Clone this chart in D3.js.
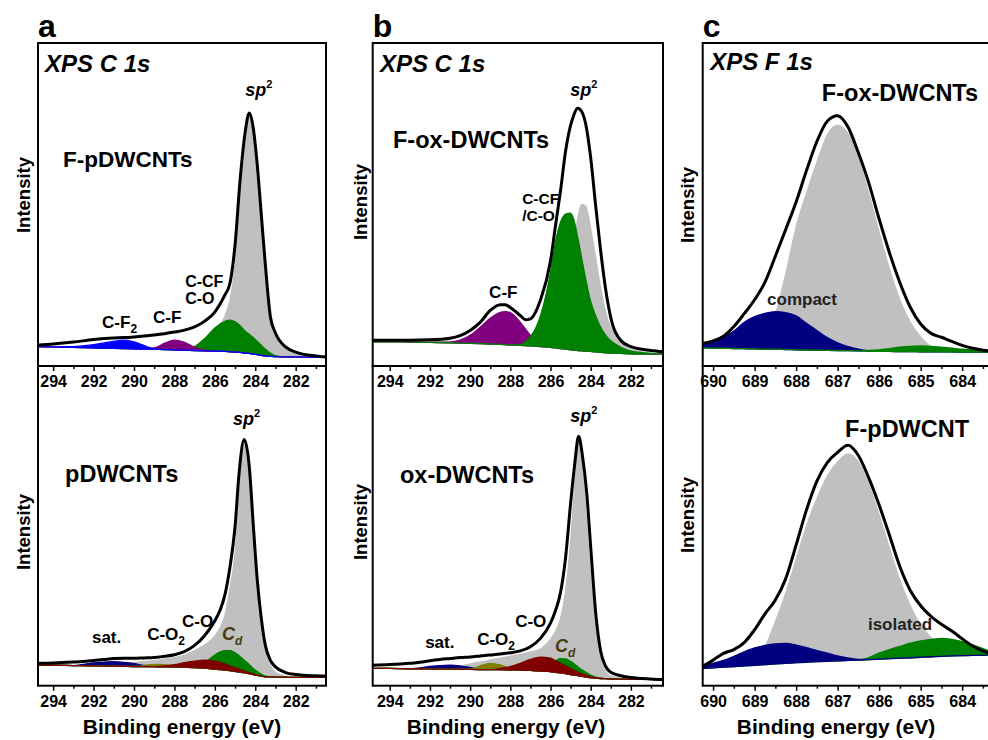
<!DOCTYPE html>
<html>
<head>
<meta charset="utf-8">
<script src="https://cdn.jsdelivr.net/npm/d3@7"></script>
<style>
  body { margin: 0; background: #fff; }
  svg text { font-family: "Liberation Sans", Arial, sans-serif; font-weight: bold; fill: #000; }
</style>
</head>
<body>
<svg id="chart" width="988" height="740"></svg>
<script>
// ---------- data (arbitrary intensity units 0-100) ----------
var c1sTicks = [294, 292, 290, 288, 286, 284, 282];
var c1sMinor = [293, 291, 289, 287, 285, 283, 281];
var f1sTicks = [690, 689, 688, 687, 686, 685, 684];
var f1sMinor = [689.5, 688.5, 687.5, 686.5, 685.5, 684.5, 683.5];

// a, top: F-pDWCNTs C 1s
var aTopEnergy   = [294.75, 294, 293, 292, 291, 290.5, 290, 289, 288.5, 288, 287.5, 287, 286.5, 286, 285.5, 285.25, 285, 284.75, 284.5, 284.3, 284.1, 283.9, 283.7, 283.5, 283.25, 283, 282.5, 282, 281, 280.5];
var aTopEnvelope = [6.5, 6.8, 7.4, 8.2, 8.7, 8.8, 9.0, 9.6, 10.0, 10.5, 11.1, 12.1, 13.9, 16.7, 22.0, 25.7, 37.5, 57.6, 72.4, 78.3, 73.7, 62.2, 46.7, 31.3, 15.2, 10.2, 5.9, 4.3, 3.1, 2.8];
var aTopBaseline = [6.0, 5.9, 5.8, 5.6, 5.5, 5.4, 5.3, 5.2, 5.1, 5.0, 4.9, 4.8, 4.7, 4.6, 4.5, 4.4, 4.3, 4.2, 4.0, 3.9, 3.7, 3.5, 3.3, 3.1, 3.0, 2.9, 2.8, 2.8, 2.7, 2.7];
var aTopSp2      = [6.0, 5.9, 5.8, 5.6, 5.5, 5.4, 5.3, 5.2, 5.1, 5.0, 4.9, 5.5, 7.0, 10.0, 15.5, 20.4, 31.0, 53.0, 70.0, 77.2, 72.5, 61.0, 45.5, 30.0, 14.2, 9.3, 5.2, 3.9, 2.9, 2.7];
var aTopCCF      = [6.0, 5.9, 5.8, 5.6, 5.5, 5.4, 5.3, 5.2, 5.1, 5.0, 4.9, 6.0, 8.5, 11.8, 13.8, 14.2, 13.7, 12.5, 10.8, 9.8, 8.8, 7.6, 6.4, 5.2, 4.0, 3.2, 2.8, 2.8, 2.7, 2.7];
var aTopCF       = [6.0, 5.9, 5.8, 5.6, 5.5, 5.4, 5.3, 5.6, 7.0, 8.0, 7.3, 5.8, 4.9, 4.6, 4.5, 4.4, 4.3, 4.2, 4.0, 3.9, 3.7, 3.5, 3.3, 3.1, 3.0, 2.9, 2.8, 2.8, 2.7, 2.7];
var aTopCF2      = [6.0, 5.9, 6.0, 6.6, 7.6, 8.0, 7.5, 5.3, 5.1, 5.0, 4.9, 4.8, 4.7, 4.6, 4.5, 4.4, 4.3, 4.2, 4.0, 3.9, 3.7, 3.5, 3.3, 3.1, 3.0, 2.9, 2.8, 2.8, 2.7, 2.7];

// b, top: F-ox-DWCNTs C 1s
var bTopEnergy   = [294.85, 294, 293, 292, 291, 290.5, 290, 289.5, 289, 288.5, 288.25, 288, 287.5, 287.25, 287, 286.5, 286, 285.75, 285.5, 285.25, 285, 284.85, 284.65, 284.45, 284.25, 284, 283.75, 283.5, 283.25, 283, 282.5, 282, 281, 280.4];
var bTopEnvelope = [8.0, 8.0, 8.0, 8.1, 8.6, 9.4, 11.0, 13.5, 17.2, 19.0, 19.0, 18.1, 15.6, 14.3, 14.6, 20.4, 32.5, 43.5, 54.3, 66.5, 74.5, 77.5, 79.8, 78.8, 75.0, 64.5, 49.5, 35.5, 23.5, 15.0, 7.9, 6.0, 4.8, 4.4];
var bTopBaseline = [7.5, 7.5, 7.4, 7.3, 7.2, 7.1, 7.0, 6.9, 6.8, 6.7, 6.6, 6.5, 6.4, 6.3, 6.2, 6.0, 5.8, 5.6, 5.4, 5.2, 5.0, 4.9, 4.8, 4.7, 4.6, 4.5, 4.35, 4.2, 4.1, 4.0, 3.9, 3.8, 3.7, 3.7];
var bTopSp2      = [8.0, 8.0, 7.9, 7.8, 7.7, 7.6, 7.5, 7.4, 7.3, 7.2, 7.1, 7.0, 6.9, 6.8, 6.8, 7.2, 9.0, 11.5, 15.0, 21.0, 29.0, 36.0, 45.5, 50.0, 49.5, 42.5, 33.5, 24.0, 16.5, 11.8, 7.0, 5.2, 4.0, 3.8];
var bTopCF       = [7.5, 7.5, 7.4, 7.3, 7.4, 8.0, 9.5, 12.0, 14.8, 16.6, 16.8, 16.5, 13.5, 11.5, 9.5, 7.0, 5.8, 5.6, 5.4, 5.2, 5.0, 4.9, 4.8, 4.7, 4.6, 4.5, 4.35, 4.2, 4.1, 4.0, 3.9, 3.8, 3.7, 3.7];
var bTopCCF      = [7.5, 7.5, 7.4, 7.3, 7.2, 7.1, 7.0, 6.9, 6.8, 6.7, 6.6, 6.5, 6.5, 7.5, 9.0, 15.5, 29.0, 38.5, 44.5, 47.0, 47.3, 45.5, 40.0, 33.5, 27.0, 20.0, 15.5, 12.0, 9.5, 7.8, 5.8, 4.6, 3.9, 3.7];

// c, top: F-ox-DWCNTs F 1s
var cTopEnergy   = [690.25, 690, 689.75, 689.5, 689.25, 689, 688.75, 688.5, 688.25, 688, 687.75, 687.5, 687.25, 687, 686.75, 686.5, 686.25, 686, 685.75, 685.5, 685.25, 685, 684.75, 684.5, 684.25, 684, 683.75, 683.33];
var cTopEnvelope = [7.0, 7.8, 9.2, 12.2, 16.2, 20.5, 26.0, 34.0, 42.3, 50.8, 60.5, 69.5, 75.8, 77.5, 74.0, 66.0, 56.7, 45.5, 35.0, 25.8, 18.2, 13.0, 10.1, 8.9, 7.6, 6.4, 5.5, 4.6];
var cTopBaseline = [5.6, 5.55, 5.5, 5.4, 5.35, 5.3, 5.25, 5.2, 5.1, 5.0, 4.95, 4.9, 4.85, 4.8, 4.75, 4.7, 4.6, 4.5, 4.5, 4.45, 4.45, 4.4, 4.4, 4.35, 4.35, 4.3, 4.3, 4.3];
var cTopMain     = [5.6, 5.55, 5.5, 5.4, 5.35, 5.3, 8.0, 16.0, 28.5, 43.0, 53.5, 63.0, 71.5, 74.6, 72.0, 64.5, 53.5, 41.5, 30.0, 20.5, 13.5, 9.0, 6.0, 4.8, 4.35, 4.3, 4.3, 4.3];
var cTopCompact  = [6.6, 7.6, 8.8, 10.8, 13.5, 15.3, 16.3, 16.8, 16.5, 15.5, 13.2, 11.0, 8.8, 7.2, 6.0, 5.2, 4.7, 4.5, 4.5, 4.45, 4.45, 4.4, 4.4, 4.35, 4.35, 4.3, 4.3, 4.3];
var cTopIsolated = [5.6, 5.55, 5.5, 5.4, 5.35, 5.3, 5.25, 5.2, 5.1, 5.0, 4.95, 4.9, 4.85, 4.8, 4.75, 4.7, 4.8, 5.0, 5.4, 5.8, 6.1, 6.2, 6.1, 5.8, 5.5, 5.2, 5.0, 4.7];

// a, bottom: pDWCNTs C 1s
var aBotEnergy   = [294.75, 294, 293, 292.5, 292, 291.5, 291, 290.5, 290, 289.5, 289, 288.5, 288, 287.5, 287, 286.5, 286, 285.75, 285.5, 285.25, 285, 284.8, 284.55, 284.3, 284.1, 283.9, 283.7, 283.5, 283.25, 283, 282.5, 282, 281, 280.5];
var aBotEnvelope = [7.0, 7.1, 7.4, 7.6, 7.9, 8.2, 8.5, 8.6, 8.6, 8.7, 8.8, 9.2, 9.7, 10.7, 12.6, 15.7, 20.3, 23.5, 28.5, 37.2, 49.8, 66.5, 77.0, 68.8, 50.5, 33.0, 21.0, 12.6, 7.9, 5.9, 4.1, 3.5, 3.1, 3.0];
var aBotBaseline = [6.4, 6.4, 6.3, 6.25, 6.2, 6.15, 6.1, 6.05, 6.0, 6.0, 5.95, 5.9, 5.9, 5.8, 5.7, 5.5, 5.2, 5.05, 4.9, 4.7, 4.5, 4.3, 4.1, 3.8, 3.5, 3.2, 3.0, 2.8, 2.75, 2.7, 2.65, 2.6, 2.6, 2.6];
var aBotSp2      = [6.4, 6.4, 6.3, 6.25, 6.2, 6.2, 6.6, 7.0, 7.3, 7.6, 7.8, 8.3, 8.8, 9.6, 11.0, 12.8, 15.5, 18.0, 22.0, 30.5, 41.5, 59.0, 75.4, 64.5, 47.5, 31.0, 19.5, 12.0, 6.5, 4.2, 3.0, 2.7, 2.6, 2.6];
var aBotSat      = [6.4, 6.4, 6.3, 6.7, 7.1, 7.4, 7.5, 7.3, 6.9, 6.3, 5.95, 5.9, 5.9, 5.8, 5.7, 5.5, 5.2, 5.05, 4.9, 4.7, 4.5, 4.3, 4.1, 3.8, 3.5, 3.2, 3.0, 2.8, 2.75, 2.7, 2.65, 2.6, 2.6, 2.6];
var aBotCO2      = [6.4, 6.4, 6.3, 6.25, 6.2, 6.15, 6.1, 6.05, 6.0, 6.3, 6.7, 6.6, 6.2, 5.8, 5.7, 5.5, 5.2, 5.05, 4.9, 4.7, 4.5, 4.3, 4.1, 3.8, 3.5, 3.2, 3.0, 2.8, 2.75, 2.7, 2.65, 2.6, 2.6, 2.6];
var aBotCd       = [6.4, 6.4, 6.3, 6.25, 6.2, 6.15, 6.1, 6.05, 6.0, 6.0, 5.95, 5.9, 5.9, 5.8, 5.7, 7.2, 9.6, 10.5, 11.0, 11.0, 10.3, 9.4, 8.0, 6.6, 5.4, 4.4, 3.6, 3.0, 2.8, 2.7, 2.65, 2.6, 2.6, 2.6];
var aBotCO       = [6.4, 6.4, 6.3, 6.25, 6.2, 6.15, 6.1, 6.05, 6.0, 6.0, 5.95, 6.2, 6.6, 7.2, 7.7, 8.0, 7.7, 7.3, 6.8, 6.2, 5.6, 5.2, 4.6, 4.1, 3.7, 3.3, 3.0, 2.8, 2.75, 2.7, 2.65, 2.6, 2.6, 2.6];

// b, bottom: ox-DWCNTs C 1s
var bBotEnergy   = [294.85, 294, 293, 292.5, 292, 291.5, 291, 290.5, 290, 289.5, 289, 288.5, 288, 287.5, 287, 286.5, 286, 285.75, 285.5, 285.25, 285, 284.8, 284.6, 284.4, 284.2, 284, 283.75, 283.5, 283.25, 283, 282.5, 282, 281, 280.4];
var bBotEnvelope = [6.4, 6.6, 7.0, 7.3, 7.8, 8.2, 8.5, 8.8, 9.0, 9.3, 9.6, 9.9, 10.3, 10.9, 12.2, 14.8, 19.6, 23.5, 29.2, 40.0, 57.0, 69.0, 78.0, 71.5, 60.5, 43.5, 22.8, 10.7, 6.0, 4.2, 3.1, 2.6, 2.1, 1.9];
var bBotBaseline = [5.4, 5.4, 5.3, 5.3, 5.25, 5.2, 5.2, 5.15, 5.1, 5.05, 5.0, 5.0, 4.95, 4.9, 4.8, 4.6, 4.4, 4.2, 4.0, 3.8, 3.5, 3.3, 3.1, 2.9, 2.7, 2.5, 2.35, 2.25, 2.2, 2.1, 2.05, 2.0, 1.95, 1.9];
var bBotSp2      = [5.4, 5.4, 5.3, 5.3, 5.25, 5.2, 5.5, 6.1, 6.8, 7.4, 8.0, 8.6, 9.2, 9.8, 10.5, 11.5, 14.5, 17.0, 21.0, 29.5, 45.0, 62.5, 77.0, 67.5, 51.0, 34.0, 18.5, 8.5, 4.5, 3.0, 2.4, 2.1, 1.95, 1.9];
var bBotSat      = [5.4, 5.4, 5.3, 5.6, 6.0, 6.3, 6.4, 6.2, 5.7, 5.2, 5.0, 5.0, 4.95, 4.9, 4.8, 4.6, 4.4, 4.2, 4.0, 3.8, 3.5, 3.3, 3.1, 2.9, 2.7, 2.5, 2.35, 2.25, 2.2, 2.1, 2.05, 2.0, 1.95, 1.9];
var bBotCO2      = [5.4, 5.4, 5.3, 5.3, 5.25, 5.2, 5.2, 5.15, 5.2, 6.2, 7.0, 6.5, 5.4, 4.95, 4.8, 4.6, 4.4, 4.2, 4.0, 3.8, 3.5, 3.3, 3.1, 2.9, 2.7, 2.5, 2.35, 2.25, 2.2, 2.1, 2.05, 2.0, 1.95, 1.9];
var bBotCd       = [5.4, 5.4, 5.3, 5.3, 5.25, 5.2, 5.2, 5.15, 5.1, 5.05, 5.0, 5.0, 4.95, 4.9, 4.8, 4.8, 6.5, 7.8, 8.5, 8.4, 7.6, 6.7, 5.7, 4.8, 4.0, 3.3, 2.7, 2.35, 2.2, 2.1, 2.05, 2.0, 1.95, 1.9];
var bBotCO       = [5.4, 5.4, 5.3, 5.3, 5.25, 5.2, 5.2, 5.15, 5.1, 5.05, 5.0, 5.4, 6.0, 7.0, 8.2, 8.9, 8.6, 7.8, 7.0, 6.2, 5.4, 4.7, 4.1, 3.6, 3.2, 2.8, 2.5, 2.25, 2.2, 2.1, 2.05, 2.0, 1.95, 1.9];

// c, bottom: F-pDWCNT F 1s
var cBotEnergy   = [690.25, 690, 689.75, 689.5, 689.25, 689, 688.75, 688.5, 688.25, 688, 687.75, 687.5, 687.25, 687, 686.75, 686.5, 686.25, 686, 685.75, 685.5, 685.25, 685, 684.75, 684.5, 684.25, 684, 683.75, 683.33];
var cBotEnvelope = [6.0, 8.0, 10.1, 11.3, 13.5, 17.5, 22.5, 26.8, 33.5, 44.0, 55.0, 64.0, 69.8, 73.0, 75.2, 72.0, 65.0, 56.5, 47.0, 37.2, 29.8, 25.0, 21.7, 19.2, 17.1, 14.7, 12.4, 10.1];
var cBotBaseline = [5.4, 5.6, 5.8, 6.0, 6.2, 6.4, 6.6, 6.8, 7.0, 7.2, 7.35, 7.5, 7.65, 7.8, 7.9, 8.0, 8.15, 8.3, 8.45, 8.6, 8.75, 8.9, 9.05, 9.2, 9.3, 9.4, 9.5, 9.6];
var cBotMain     = [5.4, 5.6, 5.8, 6.0, 6.2, 6.4, 12.0, 20.0, 29.0, 39.5, 50.0, 58.5, 65.5, 70.0, 72.5, 70.0, 63.0, 53.5, 43.0, 33.0, 25.0, 19.0, 15.0, 12.2, 10.5, 9.5, 9.5, 9.6];
var cBotIsolated = [5.4, 5.6, 5.8, 6.0, 6.2, 6.4, 6.6, 6.8, 7.0, 7.2, 7.35, 7.5, 7.65, 7.8, 7.9, 8.0, 8.8, 10.2, 11.3, 12.3, 13.3, 14.0, 14.5, 14.8, 14.5, 13.8, 12.8, 10.8];
var cBotCompact  = [6.2, 7.0, 7.9, 9.2, 10.6, 11.8, 12.6, 13.1, 13.2, 12.7, 11.9, 11.0, 10.2, 9.3, 8.7, 8.2, 8.15, 8.3, 8.45, 8.6, 8.75, 8.9, 9.05, 9.2, 9.3, 9.4, 9.5, 9.6];

// ---------- colours ----------
var GRAY = "#c0c0c0", GREEN = "#008000", PURPLE = "#800080", BLUE = "#0000ff",
    NAVY = "#000080", DARKRED = "#800000", OLIVE = "#808000";

// ---------- layout ----------
var svg = d3.select("#chart");

var panels = [
  { id: "aTop", letter: "a", left: 38, right: 326, top: 43, bottom: 366, domain: [294.75, 280.5],
    energy: aTopEnergy, baseline: aTopBaseline, envelope: aTopEnvelope,
    comps: [[aTopSp2, GRAY], [aTopCCF, GREEN], [aTopCF, PURPLE], [aTopCF2, BLUE]],
    ticks: c1sTicks, minor: c1sMinor, intensity: [24, 195],
    labels: [
      { t: "XPS C 1s", e: 294.4, i: 91.0, size: 24, italic: true },
      { t: "F-pDWCNTs", e: 293.51, i: 61.6, size: 22.5 },
      { t: "sp", sup: "2", e: 284.5, i: 83.6, size: 18, italic: true },
      { t: "C-CF", e: 287.47, i: 24.6, size: 16 },
      { t: "C-O", e: 287.47, i: 19.1, size: 16 },
      { t: "C-F", sub: "2", e: 291.58, i: 11.8, size: 17 },
      { t: "C-F", e: 289.06, i: 13.3, size: 17 }
    ] },
  { id: "bTop", letter: "b", left: 372.7, right: 663, top: 43, bottom: 366, domain: [294.85, 280.4],
    energy: bTopEnergy, baseline: bTopBaseline, envelope: bTopEnvelope,
    comps: [[bTopSp2, GRAY], [bTopCF, PURPLE], [bTopCCF, GREEN]],
    ticks: c1sTicks, minor: c1sMinor, intensity: [361, 202],
    labels: [
      { t: "XPS C 1s", e: 294.49, i: 91.0, size: 24, italic: true },
      { t: "F-ox-DWCNTs", e: 293.84, i: 67.5, size: 23.5 },
      { t: "sp", sup: "2", e: 285.02, i: 83.6, size: 18, italic: true },
      { t: "C-CF", e: 287.41, i: 50.2, size: 15.5 },
      { t: "/C-O", e: 287.41, i: 45.0, size: 15.5 },
      { t: "C-F", e: 288.35, i: 21.1, size: 17, anchor: "middle" }
    ] },
  { id: "cTop", letter: "c", left: 702.7, right: 990, top: 43, bottom: 366, domain: [690.25, 683.33],
    energy: cTopEnergy, baseline: cTopBaseline, envelope: cTopEnvelope,
    comps: [[cTopMain, GRAY], [cTopCompact, NAVY], [cTopIsolated, GREEN]],
    ticks: f1sTicks, minor: f1sMinor, intensity: [688, 205],
    labels: [
      { t: "XPS F 1s", e: 690.07, i: 91.6, size: 24, italic: true },
      { t: "F-ox-DWCNTs", e: 687.38, i: 82.0, size: 23.5 },
      { t: "compact", e: 688.70, i: 18.9, size: 17, color: "#222" }
    ] },
  { id: "aBot", left: 38, right: 326, top: 366, bottom: 685.7, domain: [294.75, 280.5],
    energy: aBotEnergy, baseline: aBotBaseline, envelope: aBotEnvelope,
    comps: [[aBotSp2, GRAY], [aBotSat, NAVY], [aBotCO2, OLIVE], [aBotCd, GREEN], [aBotCO, DARKRED]],
    ticks: c1sTicks, minor: c1sMinor, intensity: [24, 532], title: 182,
    labels: [
      { t: "sp", sup: "2", e: 285.1, i: 81.7, size: 18, italic: true },
      { t: "pDWCNTs", e: 293.41, i: 63.8, size: 23.5 },
      { t: "sat.", e: 292.08, i: 13.3, size: 17 },
      { t: "C-O", sub: "2", e: 289.35, i: 14.3, size: 17 },
      { t: "C-O", e: 287.62, i: 18.3, size: 17 },
      { t: "C", sub: "d", e: 285.64, i: 14.3, size: 18, italic: true, color: "#4a3a10" }
    ] },
  { id: "bBot", left: 372.7, right: 663, top: 366, bottom: 685.7, domain: [294.85, 280.4],
    energy: bBotEnergy, baseline: bBotBaseline, envelope: bBotEnvelope,
    comps: [[bBotSp2, GRAY], [bBotSat, NAVY], [bBotCO2, OLIVE], [bBotCd, GREEN], [bBotCO, DARKRED]],
    ticks: c1sTicks, minor: c1sMinor, intensity: [361, 522], title: 506,
    labels: [
      { t: "sp", sup: "2", e: 285.02, i: 82.6, size: 18, italic: true },
      { t: "ox-DWCNTs", e: 293.49, i: 63.5, size: 23.5 },
      { t: "sat.", e: 292.24, i: 11.8, size: 17 },
      { t: "C-O", sub: "2", e: 289.65, i: 12.7, size: 17 },
      { t: "C-O", e: 287.76, i: 18.3, size: 17 },
      { t: "C", sub: "d", e: 285.77, i: 10.5, size: 18, italic: true, color: "#4a3a10" }
    ] },
  { id: "cBot", left: 702.7, right: 990, top: 366, bottom: 685.7, domain: [690.25, 683.33],
    energy: cBotEnergy, baseline: cBotBaseline, envelope: cBotEnvelope,
    comps: [[cBotMain, GRAY], [cBotIsolated, GREEN], [cBotCompact, NAVY]],
    ticks: f1sTicks, minor: f1sMinor, intensity: [688, 515], title: 836,
    labels: [
      { t: "F-pDWCNT", e: 686.82, i: 77.9, size: 23.5 },
      { t: "isolated", e: 686.27, i: 17.4, size: 17, color: "#222" }
    ] }
];

function addLabel(g, x, y, d) {
  var txt = g.append("text")
    .attr("x", x(d.e))
    .attr("y", y(d.i))
    .attr("text-anchor", d.anchor || "start")
    .style("font-size", d.size + "px")
    .style("font-style", d.italic ? "italic" : "normal")
    .style("fill", d.color || "#000");
  txt.append("tspan").text(d.t);
  if (d.sup) {
    txt.append("tspan").attr("dy", -8).style("font-size", "11px").style("font-style", "normal").text(d.sup);
  }
  if (d.sub) {
    txt.append("tspan").attr("dy", 5).style("font-size", "12px").text(d.sub);
  }
}

panels.forEach(function(p) {
  var x = d3.scaleLinear().domain(p.domain).range([p.left, p.right]);
  var y = d3.scaleLinear().domain([0, 100]).range([p.bottom, p.top]);

  svg.append("clipPath").attr("id", "clip-" + p.id)
    .append("rect")
    .attr("x", p.left).attr("y", p.top)
    .attr("width", p.right - p.left).attr("height", p.bottom - p.top);

  var g = svg.append("g").attr("clip-path", "url(#clip-" + p.id + ")");

  // fitted components, filled from the background line
  p.comps.forEach(function(c) {
    var area = d3.area()
      .curve(d3.curveMonotoneX)
      .x(function(d, i) { return x(p.energy[i]); })
      .y0(function(d, i) { return y(p.baseline[i]); })
      .y1(function(d) { return y(d); });
    g.append("path")
      .datum(c[0])
      .attr("d", area)
      .attr("fill", c[1])
      .attr("stroke", c[1])
      .attr("stroke-width", 1.3)
      .attr("stroke-linejoin", "round");
  });

  // measured envelope
  g.append("path")
    .datum(p.envelope)
    .attr("fill", "none")
    .attr("stroke", "#000")
    .attr("stroke-width", 3)
    .attr("stroke-linejoin", "round")
    .attr("d", d3.line()
      .curve(d3.curveMonotoneX)
      .x(function(d, i) { return x(p.energy[i]); })
      .y(function(d) { return y(d); }));

  p.labels.forEach(function(d) { addLabel(svg, x, y, d); });

  // frame
  svg.append("rect")
    .attr("x", p.left).attr("y", p.top)
    .attr("width", p.right - p.left).attr("height", p.bottom - p.top)
    .attr("fill", "none").attr("stroke", "#000").attr("stroke-width", 2);

  // x axis (ticks outward)
  var ax = svg.append("g")
    .attr("transform", "translate(0," + p.bottom + ")")
    .call(d3.axisBottom(x).tickValues(p.ticks).tickSize(5).tickPadding(5).tickFormat(d3.format("d")));
  ax.select(".domain").remove();
  ax.selectAll("line").attr("stroke-width", 1.5);
  ax.selectAll("text").style("font-size", "16px");

  var mx = svg.append("g")
    .attr("transform", "translate(0," + p.bottom + ")")
    .call(d3.axisBottom(x).tickValues(p.minor).tickSize(3).tickFormat(""));
  mx.select(".domain").remove();
  mx.selectAll("line").attr("stroke-width", 1.5);

  // y title
  svg.append("text")
    .attr("transform", "translate(" + p.intensity[0] + "," + p.intensity[1] + ") rotate(-90)")
    .attr("dy", "0.35em")
    .attr("text-anchor", "middle")
    .style("font-size", "18.5px")
    .text("Intensity");

  if (p.letter) {
    svg.append("text")
      .attr("x", p.left)
      .attr("y", 37)
      .style("font-size", "32px")
      .text(p.letter);
  }
  if (p.title) {
    svg.append("text")
      .attr("x", p.title)
      .attr("y", 734)
      .attr("text-anchor", "middle")
      .style("font-size", "21px")
      .text("Binding energy (eV)");
  }
});
</script>
</body>
</html>
